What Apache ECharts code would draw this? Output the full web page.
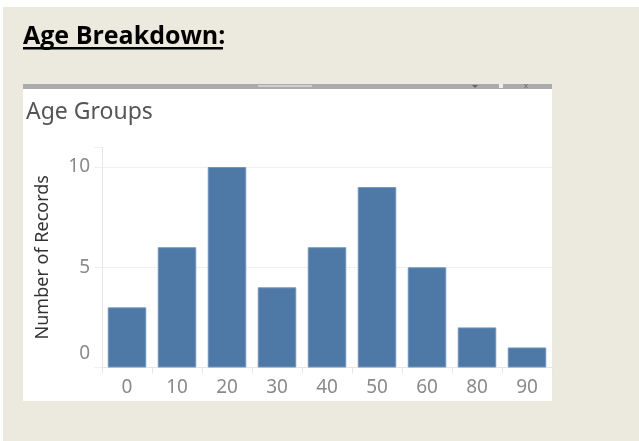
<!DOCTYPE html>
<html>
<head>
<meta charset="utf-8">
<script src="https://cdn.jsdelivr.net/npm/echarts@6/dist/echarts.min.js"></script>
<style>
  html, body { margin: 0; padding: 0; background: #ffffff; }
  #chart { width: 639px; height: 441px; }
</style>
</head>
<body>
<div id="chart"></div>
<script>
// age bins and their record counts
const ageGroups = ['0', '10', '20', '30', '40', '50', '60', '80', '90']
const recordCounts = [3, 6, 10, 4, 6, 9, 5, 2, 1]
const yTicks = [0, 5, 10]

const pageTitle = 'Age Breakdown:'
const chartTitle = 'Age Groups'
const yAxisName = 'Number of Records'

const chart = echarts.init(document.getElementById('chart'), null, { renderer: 'canvas' })

const labelFont = '"Noto Sans", "Open Sans", sans-serif'
const tickColor = '#8A8A8A'

const option = {
    backgroundColor: '#ffffff',
    animation: false,
    graphic: [
        // beige page
        { type: 'rect', shape: { x: 3, y: 7, width: 636, height: 434 }, style: { fill: '#ECE9DF' }, z: -10 },
        // heading, underlined
        {
            type: 'text', x: 23, y: 37,
            style: { text: pageTitle, fill: '#000', font: 'bold 25px "Open Sans", sans-serif', verticalAlign: 'middle' }
        },
        { type: 'rect', shape: { x: 23, y: 47, width: 200, height: 2.5 }, style: { fill: '#000' } },
        // white panel + grey header strip
        { type: 'rect', shape: { x: 23, y: 84, width: 529, height: 317 }, style: { fill: '#ffffff' }, z: -5 },
        { type: 'rect', shape: { x: 23, y: 84, width: 529, height: 5 }, style: { fill: '#ABABAB' }, z: -4 },
        { type: 'rect', shape: { x: 258, y: 85, width: 54, height: 2 }, style: { fill: '#D0D0D0' }, z: -3 },
        { type: 'polygon', shape: { points: [[472, 85], [478, 85], [475, 88]] }, style: { fill: '#666' }, z: -3 },
        { type: 'rect', shape: { x: 499, y: 84, width: 4, height: 4 }, style: { fill: '#eeeeee' }, z: -3 },
        { type: 'text', x: 524, y: 82, style: { text: 'x', fill: '#666', font: '8px sans-serif' }, z: -3 },
        // chart title
        {
            type: 'text', x: 26, y: 112,
            style: { text: chartTitle, fill: '#555555', font: '23px ' + labelFont, verticalAlign: 'middle' }
        }
    ],
    grid: { left: 102, right: 87, top: 147, bottom: 441 - 367.5, containLabel: false },
    xAxis: {
        type: 'category',
        data: ageGroups,
        axisLine: { show: true, lineStyle: { color: '#E6E6E6', width: 1 } },
        axisTick: { show: true, length: 6, lineStyle: { color: '#E6E6E6' } },
        axisLabel: { color: tickColor, fontSize: 19, fontFamily: labelFont, margin: 11 }
    },
    yAxis: {
        type: 'value',
        min: 0,
        max: 11,
        interval: 5,
        name: yAxisName,
        nameLocation: 'middle',
        nameGap: 50,
        nameRotate: 90,
        nameTextStyle: { color: '#333333', fontSize: 18, fontFamily: labelFont },
        axisLine: { show: true, lineStyle: { color: '#E6E6E6' } },
        axisTick: { show: true, length: 8, lineStyle: { color: '#F0F0F0' } },
        splitLine: {
            show: true,
            lineStyle: { color: ['#F0F0F0', '#F0F0F0', '#F0F0F0', 'rgba(0,0,0,0)'] }
        },
        axisLabel: {
            color: tickColor, fontSize: 19, fontFamily: labelFont, margin: 12,
            formatter: function (v) {
                if (yTicks.indexOf(v) === -1) return ''
                if (v === 0) return '{zero|0}'
                return String(v)
            },
            rich: { zero: { color: tickColor, fontSize: 19, fontFamily: labelFont, padding: [0, 0, 27, 0] } }
        }
    },
    series: [
        {
            type: 'bar',
            data: recordCounts,
            barCategoryGap: '23%',
            itemStyle: { color: '#4E79A7', borderColor: '#7395BC', borderWidth: 1 }
        }
    ]
}

chart.setOption(option)
</script>
</body>
</html>
